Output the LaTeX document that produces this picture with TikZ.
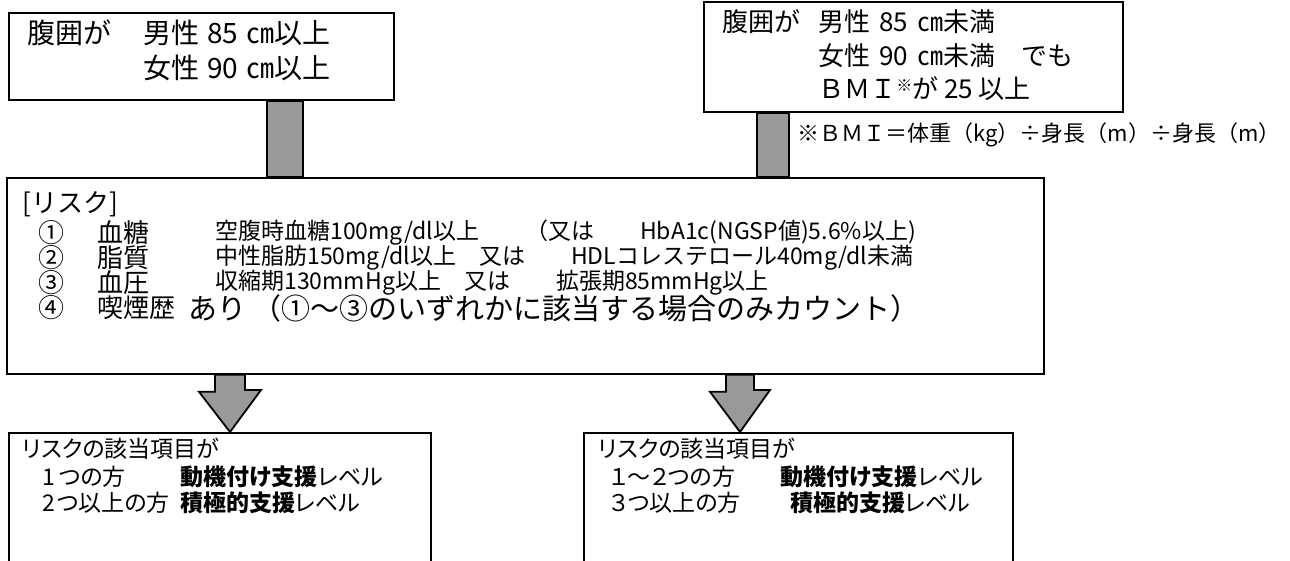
\documentclass[tikz,border=0pt]{standalone}
\usepackage{fontspec}
\setmainfont{Noto Sans CJK JP}
\usetikzlibrary{positioning}

\tikzset{
  box/.style={draw, line width=0.9pt, fill=white, inner sep=0pt, anchor=north west},
  bar/.style={draw, line width=0.9pt, fill=gray!80},
  txt/.style={anchor=west, inner sep=0pt, font=\fontsize{13}{15}\selectfont},
  bigtxt/.style={anchor=west, inner sep=0pt, font=\fontsize{14}{16}\selectfont},
  small/.style={anchor=west, inner sep=0pt, font=\fontsize{11.5}{14}\selectfont},
  note/.style={anchor=west, inner sep=0pt, font=\fontsize{11}{13}\selectfont},
  bottomtxt/.style={anchor=west, inner sep=0pt, font=\fontsize{11.5}{14}\selectfont\addfontfeature{RawFeature=+palt}},
}

\begin{document}
\begin{tikzpicture}[x=0.5pt, y=-0.5pt]
  \useasboundingbox (0,0) rectangle (1290,561);

  % boxes
  \node[box, minimum width=192.5pt, minimum height=43.5pt] (waist) at (8,12) {};
  \node[box, minimum width=209.5pt, minimum height=55pt] (bmi) at (703,1) {};
  \node[box, minimum width=518.5pt, minimum height=98pt] (risk) at (6,177) {};
  \node[box, minimum width=211pt, minimum height=80pt] (lvlA) at (8,432) {};
  \node[box, minimum width=214.5pt, minimum height=80pt] (lvlB) at (583,432) {};

  % bars and arrows
  \coordinate (barA) at (285,0);
  \coordinate (barB) at (773,0);
  \coordinate (arrA) at (230,0);
  \coordinate (arrB) at (740,0);
  \filldraw[bar] ([xshift=-9pt]waist.south -| barA) rectangle ([xshift=9pt]risk.north -| barA);
  \filldraw[bar] ([xshift=-8pt]bmi.south -| barB) rectangle ([xshift=8pt]risk.north -| barB);
  \filldraw[bar] ([xshift=-7.5pt]risk.south -| arrA) -- ++(0,17) -- ++(-16,0)
    -- (lvlA.north -| arrA) -- ++(31,-42) -- ++(-16,0) -- ([xshift=7.5pt]risk.south -| arrA) -- cycle;
  \filldraw[bar] ([xshift=-7pt]risk.south -| arrB) -- ++(0,17) -- ++(-16,0)
    -- (lvlB.north -| arrB) -- ++(30,-42) -- ++(-16,0) -- ([xshift=7pt]risk.south -| arrB) -- cycle;

  % top left
  \node[bigtxt] (wA0) at (27,33) {腹囲が};
  \node[bigtxt] (wA1) at (143,33) {男性\hspace{4pt}85\hspace{4pt}㎝以上};
  \node[bigtxt] (wA2) at (143,68) {女性\hspace{4pt}90\hspace{4pt}㎝以上};

  % top right
  \node[txt] (wB0) at (722,22) {腹囲が};
  \node[txt] (wB1) at (818,22) {男性\hspace{4.5pt}85\hspace{4.5pt}㎝未満};
  \node[txt] (wB2) at (818,56) {女性\hspace{4.5pt}90\hspace{4.5pt}㎝未満　でも};
  \node[txt] (wB3) at (818,89) {ＢＭＩ\raisebox{0.55ex}{\fontsize{8}{9}\selectfont ※}が 25 以上};
  \node[note] (bminote) at (797,135) {※ＢＭＩ＝体重（kg）÷身長（m）÷身長（m）};

  % risk
  \node[txt] (rhead) at (22,204) {[リスク]};
  \node[txt] (r1) at (38,233) {①};
  \node[txt] (r2) at (38,258) {②};
  \node[txt] (r3) at (38,283) {③};
  \node[txt] (r4) at (38,308) {④};
  \node[txt] (r1a) at (97,233) {血糖};
  \node[txt] (r2a) at (97,258) {脂質};
  \node[txt] (r3a) at (97,283) {血圧};
  \node[txt] (r4a) at (97,308) {喫煙歴};
  \node[small] (r1b) at (215,233) {空腹時血糖100mg/dl以上　　（又は　　HbA1c(NGSP値)5.6\%以上)};
  \node[small] (r2b) at (215,258) {中性脂肪150mg/dl以上　又は　　HDLコレステロール40mg/dl未満};
  \node[small] (r3b) at (215,283) {収縮期130mmHg以上　又は　　拡張期85mmHg以上};
  \node[small, font=\fontsize{14.5}{16}\selectfont] (r4b) at (188,308) {あり （①～③のいずれかに該当する場合のみカウント）};

  % levels
  \node[bottomtxt] (lA0) at (22,449) {リスクの該当項目が};
  \node[bottomtxt] (lA1) at (42,477) {1\hspace{2pt}つの方};
  \node[bottomtxt] (lA2) at (42,503) {2\hspace{1pt}つ以上の方};
  \node[bottomtxt] (lA3) at (180,477) {\bfseries 動機付け支援\mdseries レベル};
  \node[bottomtxt] (lA4) at (180,503) {\bfseries 積極的支援\mdseries レベル};
  \node[bottomtxt] (lB0) at (598,449) {リスクの該当項目が};
  \node[bottomtxt] (lB1) at (610,477) {１～２つの方};
  \node[bottomtxt] (lB2) at (610,503) {３つ以上の方};
  \node[bottomtxt] (lB3) at (780,477) {\bfseries 動機付け支援\mdseries レベル};
  \node[bottomtxt] (lB4) at (790,503) {\bfseries 積極的支援\mdseries レベル};
\end{tikzpicture}
\end{document}
